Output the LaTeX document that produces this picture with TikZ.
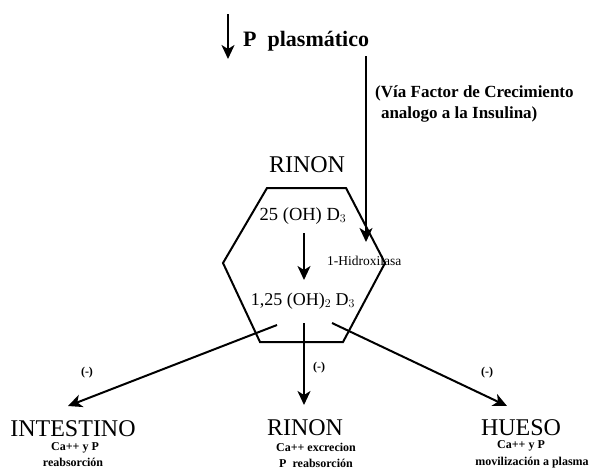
\documentclass[tikz,border=0pt]{standalone}
\usepackage{fontspec}
\setmainfont{Liberation Serif}
\usetikzlibrary{arrows.meta}
\begin{document}
\begin{tikzpicture}[x=1pt,y=-1pt,
  conn/.style={line width=2pt,-{Stealth[length=14pt,width=13pt,inset=4pt]}},
  big/.style={font=\fontsize{24}{26}\selectfont,anchor=base,inner sep=0pt},
  small/.style={font=\fontsize{12}{14}\selectfont\bfseries,anchor=base,inner sep=0pt},
  igfstyle/.style={anchor=base west,inner sep=0pt,font=\fontsize{17}{19}\selectfont\bfseries},
  minus/.style={font=\fontsize{12}{14}\selectfont\bfseries}]
\useasboundingbox (0,0) rectangle (596,474);
% top
\coordinate (ptop) at (228,14);
\coordinate (pbot) at (228,59);
\draw[conn] (ptop) -- (pbot);
\node[anchor=base west,inner sep=0pt,font=\fontsize{22}{24}\selectfont\bfseries] (plasma) at (243,46) {P\ \ plasmático};
\coordinate (igfs) at (366,56);
\node[igfstyle] (igf1) at (375,97) {(Vía Factor de Crecimiento};
\node[igfstyle] (igf2) at (378,118) {\,analogo a la Insulina)};
% kidney
\node[big] (rinon) at (307,172) {RINON};
\draw[line width=2pt] (267,188) -- (346,188) -- (385,263) -- (343,342) -- (260,342) -- (223,263) -- cycle;
\node[anchor=base,inner sep=0pt,font=\fontsize{18.5}{20}\selectfont] (d25) at (303,220) {25 (OH) D$_3$};
\node[anchor=base,inner sep=0pt,font=\fontsize{18}{20}\selectfont] (d125) at (303,305) {1,25 (OH)$_2$ D$_3$};
\draw[conn] (304,233) -- (304,280);
\node[anchor=base west,inner sep=0pt,font=\fontsize{13.5}{15}\selectfont] (hidrox) at (327,265) {1-Hidroxilasa};
\coordinate (igft) at (366,242);
\draw[conn] (igfs) -- (igft);
% outputs
\coordinate (sl) at (277,325);
\coordinate (sc) at (304,323);
\coordinate (sr) at (332,323);
\node[big] (intes) at (73,436) {INTESTINO};
\node[small] (intest1) at (75,450) {Ca++ y P};
\node[small] (intest2) at (73,466) {reabsorción};
\node[big] (rinon2) at (305,435) {RINON};
\node[small] (rinont1) at (316,451) {Ca++ excrecion};
\node[small] (rinont2) at (316,467) {P \ reabsorción};
\node[big] (hueso) at (521,435) {HUESO};
\node[small] (huesot1) at (521,448) {Ca++ y P};
\node[small] (huesot2) at (532,465) {movilización a plasma};
\draw[conn] (sl) -- (68,406);
\draw[conn] (sc) -- (304,405);
\draw[conn] (sr) -- (507,406);
\node[minus] (m1) at (87,373) {(-)};
\node[minus] (m2) at (319,368) {(-)};
\node[minus] (m3) at (487,373) {(-)};
\end{tikzpicture}
\end{document}
